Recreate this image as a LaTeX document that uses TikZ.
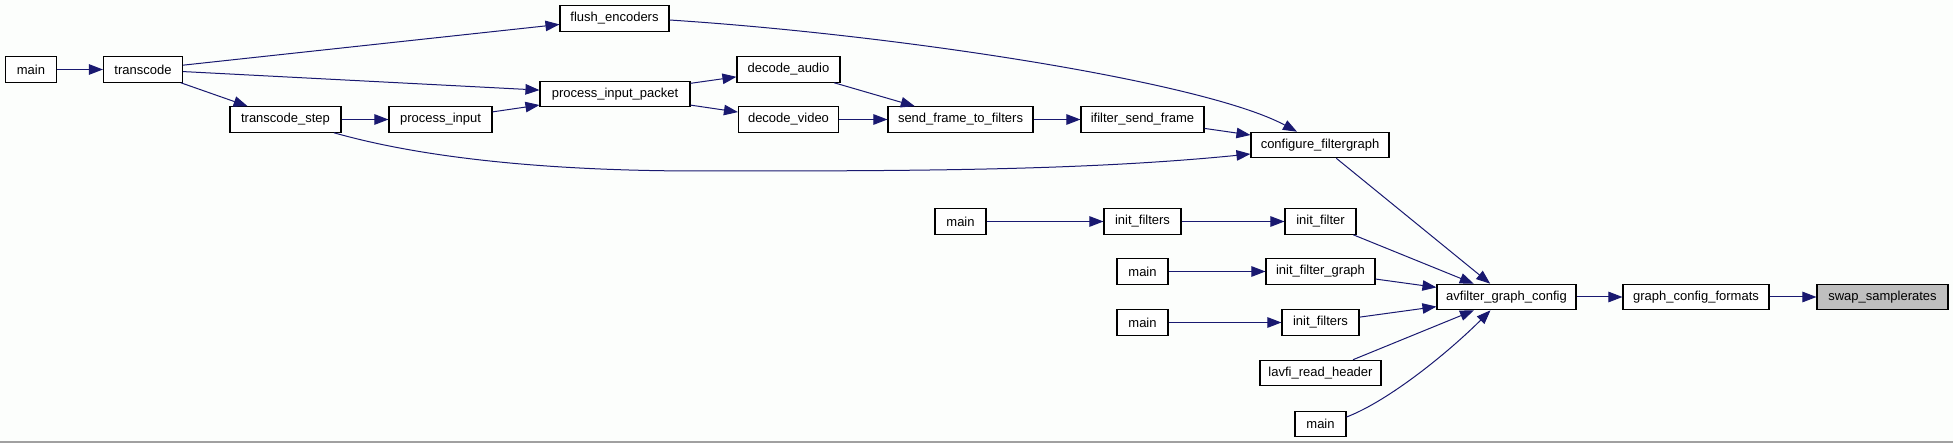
\documentclass[tikz,border=0pt]{standalone}
\usepackage{fontspec}
\setmainfont{Liberation Sans}
\usetikzlibrary{arrows.meta}
\definecolor{edgeblue}{HTML}{191970}
\definecolor{pagebg}{HTML}{FCFEFC}
\definecolor{rulegray}{HTML}{A0A0A0}
\definecolor{markgray}{HTML}{BFBFBF}

\begin{document}
\begin{tikzpicture}[
  x=1pt, y=-1pt,
  box/.style={draw=black, fill=white, line width=1.1pt, inner sep=0pt,
    minimum height=25.5pt, minimum width=#1, font=\fontsize{13}{15}\selectfont},
  box/.default=51pt,
  arr/.style={-{Triangle[length=14pt,width=10.5pt]}, draw=edgeblue, line width=1pt}
]
\useasboundingbox (0,0) rectangle (1953,443);
\fill[pagebg] (0,0) rectangle (1953,443);
\fill[rulegray] (0,441) rectangle (1953,443);

% transcode branch
\node[box] (main_a) at (31,69.5) {main};
\node[box=79pt] (transcode) at (143,69.5) {transcode};
\node[box=109pt] (flush) at (614.5,18.5) {flush\_encoders};
\node[box=150pt] (pip) at (615,94) {process\_input\_packet};
\node[box=111pt] (tstep) at (285.5,119.5) {transcode\_step};
\node[box=103pt] (procin) at (440.5,119.5) {process\_input};
\node[box=103pt] (decaud) at (788.5,69.5) {decode\_audio};
\node[box=100pt] (decvid) at (788.5,119.5) {decode\_video};
\node[box=145pt] (sendframe) at (960.5,119.5) {send\_frame\_to\_filters};
\node[box=123pt] (ifsend) at (1142.5,119.5) {ifilter\_send\_frame};
\node[box=138pt] (cfg) at (1320,145) {configure\_filtergraph};

% other callers
\node[box] (main_b) at (960.5,221.5) {main};
\node[box=77pt] (initfs_a) at (1142.5,221.5) {init\_filters};
\node[box=71pt] (initf) at (1320.5,221.5) {init\_filter};
\node[box] (main_c) at (1142.5,271.5) {main};
\node[box=109pt] (initfg) at (1320.5,271.5) {init\_filter\_graph};
\node[box] (main_d) at (1142.5,322.5) {main};
\node[box=77pt] (initfs_b) at (1320.5,322.5) {init\_filters};
\node[box=121pt] (lavfi) at (1320.5,373) {lavfi\_read\_header};
\node[box] (main_e) at (1320.5,424) {main};

\node[box=139pt] (agc) at (1506.5,297) {avfilter\_graph\_config};
\node[box=146pt] (gcf) at (1696,297) {graph\_config\_formats};
\node[box=131pt, fill=markgray] (swap) at (1882.5,297) {swap\_samplerates};

\draw[arr] (main_a) -- (transcode);
\draw[arr] (transcode) -- (flush);
\draw[arr] (transcode) -- (pip);
\draw[arr] (transcode) -- (tstep);
\draw[arr] (tstep) -- (procin);
\draw[arr] (procin) -- (pip);
\draw[arr] (pip) -- (decaud);
\draw[arr] (pip) -- (decvid);
\draw[arr] (decaud) -- (sendframe);
\draw[arr] (decvid) -- (sendframe);
\draw[arr] (sendframe) -- (ifsend);
\draw[arr] (ifsend) -- (cfg);
\draw[arr] ([yshift=-1.5pt]flush.east) .. controls (900,35) and (1205,82) .. ([xshift=-23pt]cfg.north);
\draw[arr] ([xshift=48.5pt]tstep.south) .. controls (430,160) and (560,171) .. (700,171)
  .. controls (900,171) and (1080,171) .. ([yshift=-9pt]cfg.west);
\draw[arr] (cfg) -- (agc);

\draw[arr] (main_b) -- (initfs_a);
\draw[arr] (initfs_a) -- (initf);
\draw[arr] (initf) -- (agc);
\draw[arr] (main_c) -- (initfg);
\draw[arr] (initfg) -- (agc);
\draw[arr] (main_d) -- (initfs_b);
\draw[arr] (initfs_b) -- (agc);
\draw[arr] (lavfi) -- (agc);
\draw[arr] ([yshift=7pt]main_e.east) .. controls +(44,-17) and +(-40,40) .. ([xshift=-16pt]agc.south);

\draw[arr] (agc) -- (gcf);
\draw[arr] (gcf) -- (swap);
\end{tikzpicture}
\end{document}
